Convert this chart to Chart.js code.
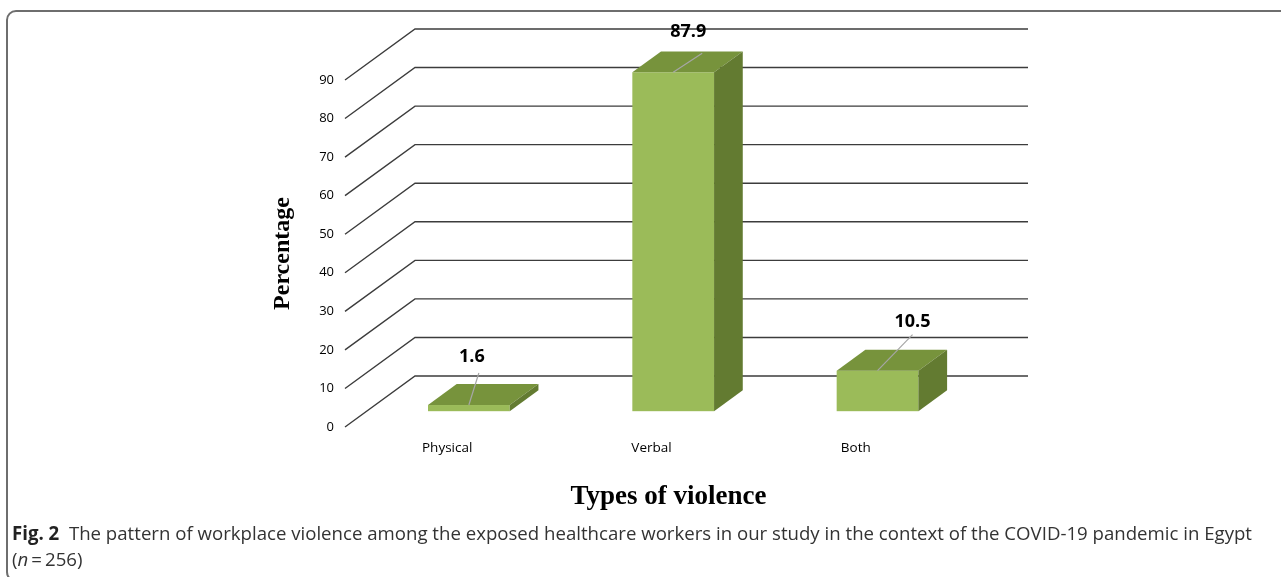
<!DOCTYPE html>
<html>
<head>
<meta charset="utf-8">
<script src="https://cdn.jsdelivr.net/npm/chart.js@4/dist/chart.umd.min.js"></script>
<style>
  html, body { margin: 0; padding: 0; background: #fff; }
  body { width: 1281px; height: 577px; position: relative; overflow: hidden; }
  #frame {
    position: absolute; left: 6px; top: 10px; width: 1320px; height: 572px;
    box-sizing: border-box; border: 2px solid #6e6e6e; border-radius: 10px;
  }
  #chart { position: absolute; left: 0; top: 0; }
  #caption {
    position: absolute; left: 12px; top: 520px;
    font-family: "Open Sans", "Noto Sans", sans-serif; font-size: 19px;
    line-height: 26px; color: #333; white-space: nowrap;
  }
  #caption .line { display: inline-block; transform-origin: 0 0; }
  #caption b { font-weight: 700; color: #222; }
</style>
</head>
<body>
<div id="frame"></div>
<canvas id="chart" width="1281" height="577"></canvas>
<div id="caption">
  <span class="line" id="cap1"><b>Fig. 2</b>&nbsp; The pattern of workplace violence among the exposed healthcare workers in our study in the context of the COVID-19 pandemic in Egypt</span><br>
  <span class="line" id="cap2">(<i>n</i>&#8201;=&#8201;256)</span>
</div>
<script>
// Types of workplace violence and the share of exposed workers (%)
const categories = ['Physical', 'Verbal', 'Both'];
const percentages = [1.6, 87.9, 10.5];
const yTickValues = [0, 10, 20, 30, 40, 50, 60, 70, 80, 90];

// 3-D look: offset from the front edge of the floor to the back wall
const DEPTH = { dx: 70, dy: -51 };
const BAR_FRONT = 0.31;   // fraction of depth where bar front faces sit
const BAR_BACK = 0.72;    // fraction of depth where bar back faces sit
const COLORS = { front: '#9BBB59', top: '#77933C', side: '#637B31', grid: '#3c3c3c', leader: '#a6a6a6' };
// value labels were nudged by hand: [label dx, label dy, leader start dx, leader start dy]
const LABEL_NUDGE = [[3, -48, 10, -32], [15, -40, 29, -19], [35, -49, 35, -36]];
const SANS = '"Open Sans", "Noto Sans", sans-serif';

const depthPlugin = {
  id: 'depth3d',
  beforeDatasetsDraw(chart) {
    const { ctx, chartArea, scales } = chart;
    const y = scales.y;
    ctx.save();
    ctx.strokeStyle = COLORS.grid;
    ctx.lineWidth = 1.4;
    yTickValues.forEach(v => {
      const py = y.getPixelForValue(v);
      ctx.beginPath();
      ctx.moveTo(chartArea.left, py);
      ctx.lineTo(chartArea.left + DEPTH.dx, py + DEPTH.dy);
      ctx.lineTo(chartArea.right + DEPTH.dx, py + DEPTH.dy);
      ctx.stroke();
    });
    ctx.restore();
  },
  afterDatasetsDraw(chart) {
    const { ctx } = chart;
    const meta = chart.getDatasetMeta(0);
    const ox = DEPTH.dx * BAR_FRONT, oy = DEPTH.dy * BAR_FRONT;
    const bx = DEPTH.dx * (BAR_BACK - BAR_FRONT), by = DEPTH.dy * (BAR_BACK - BAR_FRONT);
    ctx.save();
    meta.data.forEach((bar, i) => {
      const { x, y, base, width } = bar.getProps(['x', 'y', 'base', 'width'], true);
      const l = x - width / 2 + ox, r = x + width / 2 + ox;
      const t = y + oy, b = base + oy;
      // front face
      ctx.fillStyle = COLORS.front;
      ctx.fillRect(l, t, r - l, b - t);
      // top face
      ctx.fillStyle = COLORS.top;
      ctx.beginPath();
      ctx.moveTo(l, t); ctx.lineTo(r, t); ctx.lineTo(r + bx, t + by); ctx.lineTo(l + bx, t + by);
      ctx.closePath(); ctx.fill();
      // side face
      ctx.fillStyle = COLORS.side;
      ctx.beginPath();
      ctx.moveTo(r, t); ctx.lineTo(r + bx, t + by); ctx.lineTo(r + bx, b + by); ctx.lineTo(r, b);
      ctx.closePath(); ctx.fill();

      // value label with leader line
      const cx = x + ox;
      const n = LABEL_NUDGE[i];
      ctx.strokeStyle = COLORS.leader;
      ctx.lineWidth = 1.2;
      ctx.beginPath();
      ctx.moveTo(cx + n[2], t + n[3]);
      ctx.lineTo(cx, t);
      ctx.stroke();
      ctx.fillStyle = '#000';
      ctx.font = 'bold 18px ' + SANS;
      ctx.textAlign = 'center';
      ctx.textBaseline = 'middle';
      ctx.fillText(percentages[i].toFixed(1), cx + n[0], t + n[1]);
    });
    ctx.restore();
  },
  afterDraw(chart) {
    const { ctx, chartArea } = chart;
    ctx.save();
    ctx.fillStyle = '#000';
    ctx.font = 'bold 27px "Liberation Serif", "Times New Roman", serif';
    ctx.textAlign = 'center';
    ctx.textBaseline = 'middle';
    ctx.fillText('Types of violence', (chartArea.left + chartArea.right) / 2 + 17, 497);
    ctx.restore();
  }
};

new Chart(document.getElementById('chart'), {
  type: 'bar',
  data: {
    labels: categories,
    datasets: [{
      data: percentages,
      backgroundColor: 'rgba(0,0,0,0)',
      borderWidth: 0,
      barPercentage: 0.4,
      categoryPercentage: 1.0
    }]
  },
  options: {
    responsive: false,
    animation: false,
    events: [],
    layout: { padding: { left: 268, top: 80, right: 323, bottom: 0 } },
    plugins: { legend: { display: false }, tooltip: { enabled: false } },
    scales: {
      x: {
        grid: { display: false, drawTicks: false },
        border: { display: false },
        ticks: { color: '#000', padding: 13, font: { family: SANS, size: 13.5 } },
        afterFit(scale) { scale.height = 150; }
      },
      y: {
        min: 0, max: 90,
        afterBuildTicks(scale) { scale.ticks = yTickValues.map(v => ({ value: v })); },
        grid: { display: false, drawTicks: false },
        border: { display: false },
        ticks: { color: '#000', padding: 11, font: { family: SANS, size: 13 } },
        title: {
          display: true, text: 'Percentage', color: '#000',
          padding: { top: 0, bottom: 0 },
          font: { family: '"Liberation Serif", "Times New Roman", serif', size: 24, weight: 'bold' }
        },
        afterFit(scale) { scale.width = 77; }
      }
    }
  },
  plugins: [depthPlugin]
});

// fit the caption's first line to the frame width
const cap1 = document.getElementById('cap1');
const w1 = cap1.getBoundingClientRect().width;
const s = 1240 / w1;
cap1.style.transform = 'scaleX(' + s + ')';
document.getElementById('cap2').style.transform = 'scaleX(' + s + ')';
</script>
</body>
</html>
